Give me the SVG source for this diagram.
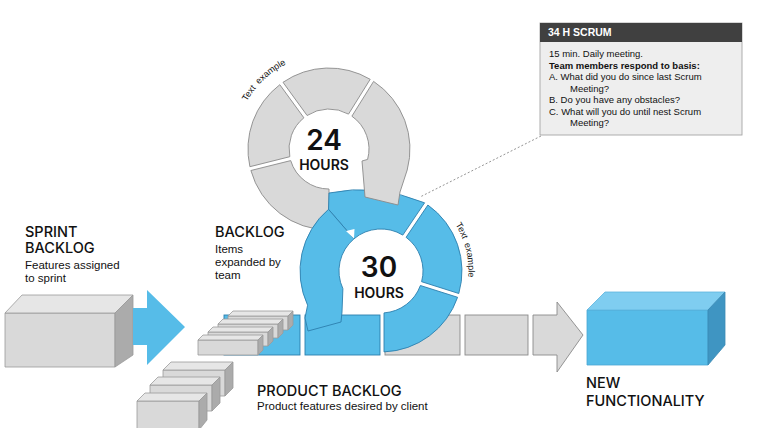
<svg xmlns="http://www.w3.org/2000/svg" width="760" height="428" viewBox="0 0 760 428">
<style>
.g{fill:#d9d9d9;stroke:#8a8a8a;stroke-width:0.9}
.gt{fill:#e6e6e6;stroke:#9a9a9a;stroke-width:0.8}
.gr{fill:#ababab;stroke:#9a9a9a;stroke-width:0.8}
.gf{fill:#d9d9d9;stroke:#9a9a9a;stroke-width:0.8}
.b{fill:#56bce8;stroke:#2c7fae;stroke-width:0.9}
.h{font-family:Inter,"Liberation Sans",sans-serif;font-weight:500;fill:#111;font-size:14.5px}
.s{font-family:"Liberation Sans",Arial,sans-serif;fill:#111;font-size:11.5px}
.big{font-family:Inter,"Liberation Sans",sans-serif;font-weight:600;fill:#111;text-anchor:middle}
.te{font-family:"Liberation Sans",Arial,sans-serif;fill:#111;font-size:9px;word-spacing:2px}
.sc{font-family:"Liberation Sans",Arial,sans-serif;fill:#111;font-size:9.5px}
</style>
<defs>
<path id="arc24" d="M246.7,101.5 A95,95 0 0,1 296.5,59.7"/>
<path id="arc30" d="M455.5,224.6 A87,87 0 0,1 462.8,300.8"/>
</defs>
<rect width="760" height="428" fill="#ffffff"/>

<g id="connectors">
<line x1="541" y1="136" x2="420" y2="197" stroke="#888" stroke-width="0.9" stroke-dasharray="2,2"/>
</g>

<g id="scrum-box">
<rect x="540" y="23" width="202" height="112" fill="#eeeeee" stroke="#a5a5a5" stroke-width="0.9"/>
<rect x="540" y="23" width="202" height="19" fill="#404040"/>
<text x="548" y="36" font-family="Liberation Sans,Arial,sans-serif" font-weight="bold" font-size="10.5" fill="#ffffff">34 H SCRUM</text>
<text class="sc" x="549" y="57">15 min. Daily meeting.</text>
<text class="sc" x="549" y="68.5" font-weight="bold">Team members respond to basis:</text>
<text class="sc" x="549" y="80">A. What did you do since last Scrum</text>
<text class="sc" x="570" y="91.5">Meeting?</text>
<text class="sc" x="549" y="103">B. Do you have any obstacles?</text>
<text class="sc" x="549" y="114.5">C. What will you do until nest Scrum</text>
<text class="sc" x="570" y="126">Meeting?</text>
</g>

<g id="strip">
<rect class="b" x="224" y="315" width="76" height="40"/>
<rect class="b" x="305" y="315" width="75" height="40"/>
<rect class="g" x="385" y="315" width="75" height="40"/>
<rect class="g" x="465" y="315" width="63" height="40"/>
<path class="g" d="M533,315 L557,315 L557,302 L583,335 L557,372 L557,355 L533,355 Z"/>
</g>

<g id="ring-24-back">
<path class="g" d="M283,82.3 A81,81 0 0,1 370.2,79.3 L348.5,114.1 A40,40 0 0,0 307.1,115.5 Z"/>
<path class="g" d="M249.9,166.7 A81,81 0 0,1 279.8,84.7 L303.9,117.8 A40,40 0 0,0 289.8,156.7 Z"/>
<path class="g" d="M329,230 A81,81 0 0,1 250.9,170.5 L290.7,160.6 A40,40 0 0,0 329,189 Z"/>
</g>

<g id="ring-30">
<path class="b" d="M329,193 Q376,183 424.6,202.8 L402.8,235.1 A42,42 0 0,0 354,238.8 L328.5,209.3 Z"/>
<path class="b" d="M427.9,205 A81,81 0 0,1 458.8,293.5 L421.6,281.7 A42,42 0 0,0 406.1,237.3 Z"/>
<path class="b" d="M457.6,297.3 A81,81 0 0,1 384,351.9 L384,312.9 A42,42 0 0,0 420.4,285.5 Z"/>
<path class="b" d="M328.5,209.3 A81,81 0 0,0 307.6,305.2 L305,318 L308,331 L341,322 L342,312 L342.9,288.7 A42,42 0 0,1 354,238.8 Z"/>
<polygon points="346,231 354,238.5 354.5,229" fill="#ffffff"/>
<text class="big" x="379" y="277" font-size="28">30</text>
<text class="big" x="379" y="298" font-size="14">HOURS</text>
<text class="te"><textPath href="#arc30">Text example</textPath></text>
</g>

<g id="ring-24">
<path class="g" d="M373.6,81.4 A81,81 0 0,1 407.2,170 L400,192 L398,205 L365,197 L362,161 L367.6,159.4 A40,40 0 0,0 351.9,116.2 Z"/>
<text class="big" x="324" y="150" font-size="28">24</text>
<text class="big" x="324" y="170" font-size="14">HOURS</text>
<text class="te"><textPath href="#arc24">Text example</textPath></text>
</g>

<g id="sprint-backlog">
<polygon class="gf" points="5,313 115,313 115,367 5,367"/>
<polygon class="gt" points="5,313 22,295 133,295 115,313"/>
<polygon class="gr" points="115,313 133,295 133,355 115,367"/>
<polygon points="133,308 147,308 147,290 185,327 147,365 147,345 133,345" fill="#56bce8"/>
<text class="h" x="25" y="237">SPRINT</text>
<text class="h" x="25" y="253">BACKLOG</text>
<text class="s" x="25" y="269">Features assigned</text>
<text class="s" x="25" y="282">to sprint</text>
</g>

<g id="backlog-items">
<polygon class="gf" points="228,316 288,316 288,330 228,330"/>
<polygon class="gt" points="228,316 233,311 293,311 288,316"/>
<polygon class="gr" points="288,316 293,311 293,325 288,330"/>
<polygon class="gf" points="218,324 278,324 278,338 218,338"/>
<polygon class="gt" points="218,324 223,319 283,319 278,324"/>
<polygon class="gr" points="278,324 283,319 283,333 278,338"/>
<polygon class="gf" points="208,332 268,332 268,346 208,346"/>
<polygon class="gt" points="208,332 213,327 273,327 268,332"/>
<polygon class="gr" points="268,332 273,327 273,341 268,346"/>
<polygon class="gf" points="198,340 258,340 258,355 198,355"/>
<polygon class="gt" points="198,340 203,335 263,335 258,340"/>
<polygon class="gr" points="258,340 263,335 263,350 258,355"/>
<text class="h" x="215" y="237">BACKLOG</text>
<text class="s" x="215" y="253">Items</text>
<text class="s" x="215" y="266">expanded by</text>
<text class="s" x="215" y="279">team</text>
</g>

<g id="product-backlog">
<polygon class="gf" points="163,370 225,370 225,396 163,396"/>
<polygon class="gt" points="163,370 171,362 233,362 225,370"/>
<polygon class="gr" points="225,370 233,362 233,388 225,396"/>
<polygon class="gf" points="150,385 212,385 212,411 150,411"/>
<polygon class="gt" points="150,385 158,377 220,377 212,385"/>
<polygon class="gr" points="212,385 220,377 220,403 212,411"/>
<polygon class="gf" points="137,401 199,401 199,430 137,430"/>
<polygon class="gt" points="137,401 145,393 207,393 199,401"/>
<polygon class="gr" points="199,401 207,393 207,420 199,430"/>
<text class="h" x="257" y="396">PRODUCT BACKLOG</text>
<text class="s" x="257" y="410">Product features desired by client</text>
</g>

<g id="new-functionality">
<polygon points="587,310 708,310 708,365 587,365" fill="#56bce8" stroke="#4aa6d3" stroke-width="0.8"/>
<polygon points="587,310 605,292 725,292 708,310" fill="#7fcdf0" stroke="#5db4dd" stroke-width="0.8"/>
<polygon points="708,310 725,292 725,345 708,365" fill="#3f95c2" stroke="#3a8ab5" stroke-width="0.8"/>
<text class="h" x="586" y="388">NEW</text>
<text class="h" x="586" y="406">FUNCTIONALITY</text>
</g>
</svg>
